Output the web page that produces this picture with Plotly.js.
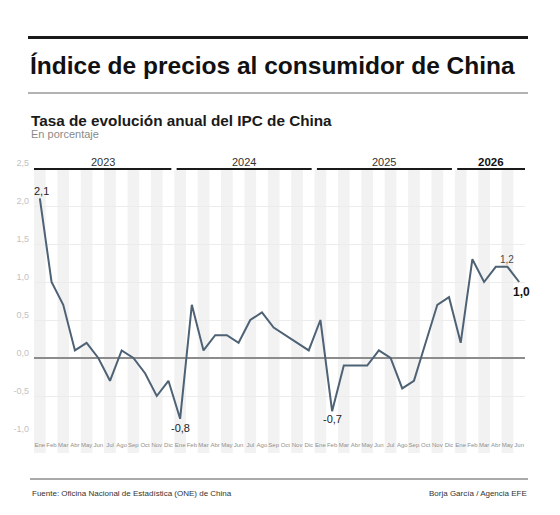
<!DOCTYPE html>
<html>
<head>
<meta charset="utf-8">
<script src="https://cdn.plot.ly/plotly-3.0.1.min.js"></script>
<style>
  html, body { margin: 0; padding: 0; background: #ffffff; }
  #chart { width: 560px; height: 515px; }
</style>
</head>
<body>
<div id="chart"></div>
<script>
// Tasa de variación interanual del IPC de China, por meses
const years = ['2023', '2024', '2025', '2026'];
const months = ['Ene', 'Feb', 'Mar', 'Abr', 'May', 'Jun', 'Jul', 'Ago', 'Sep', 'Oct', 'Nov', 'Dic'];
const cpi2023 = [2.1, 1.0, 0.7, 0.1, 0.2, 0.0, -0.3, 0.1, 0.0, -0.2, -0.5, -0.3];
const cpi2024 = [-0.8, 0.7, 0.1, 0.3, 0.3, 0.2, 0.5, 0.6, 0.4, 0.3, 0.2, 0.1];
const cpi2025 = [0.5, -0.7, -0.1, -0.1, -0.1, 0.1, 0.0, -0.4, -0.3, 0.2, 0.7, 0.8];
const cpi2026 = [0.2, 1.3, 1.0, 1.2, 1.2, 1.0];
const yTicks = [-1.0, -0.5, 0.0, 0.5, 1.0, 1.5, 2.0, 2.5];

// Serie continua y etiquetas de mes
const series = [cpi2023, cpi2024, cpi2025, cpi2026];
const values = [].concat(...series);
const idx = values.map((_, i) => i);
const monthText = idx.map(i => months[i % 12]);

// Puntos con etiqueta de valor
const labelled = [
  { i: 0,  dy: 7,   dx: 2, size: 11, color: '#222222', bold: false },
  { i: 12, dy: -9,  dx: 0, size: 11, color: '#222222', bold: false },
  { i: 25, dy: -8,  dx: 0, size: 11, color: '#222222', bold: false },
  { i: 40, dy: 7,   dx: 0, size: 10, color: '#4a4a4a', bold: false },
  { i: 41, dy: -10, dx: 2, size: 12, color: '#111111', bold: true }
];

// Geometría
const W = 560, H = 515;
const M = { l: 34, r: 35, t: 168, b: 81 };
const pw = W - M.l - M.r, ph = H - M.t - M.b;
const PX = x => (x - M.l) / pw;
const PY = y => (H - M.b - y) / ph;

const fmt = v => v.toFixed(1).replace('.', ',');

const shapes = [];
const annotations = [];

// Bandas alternas de fondo
idx.forEach(i => {
  if (i % 2 === 0) {
    shapes.push({
      type: 'rect', layer: 'below', xref: 'x', yref: 'paper',
      x0: i - 0.5, x1: i + 0.5, y0: PY(453), y1: PY(170),
      fillcolor: '#f2f2f2', line: { width: 0 }
    });
  }
});

// Barras de año y rótulos
let start = 0;
years.forEach((yr, k) => {
  const n = series[k].length;
  const first = start, last = start + n - 1;
  const isLast = k === years.length - 1;
  const x0 = first - 0.5 + (first > 0 ? 0.2 : 0);
  const x1 = last + 0.5 - (isLast ? -0.05 : 0.25);
  shapes.push({
    type: 'line', xref: 'x', yref: 'paper',
    x0: x0, x1: x1, y0: PY(169), y1: PY(169),
    line: { color: '#1a1a1a', width: 2 }
  });
  annotations.push({
    xref: 'x', yref: 'paper', x: (x0 + x1) / 2, y: PY(161.5),
    xanchor: 'center', yanchor: 'middle', showarrow: false,
    text: isLast ? '<b>' + yr + '</b>' : yr,
    font: { family: 'Liberation Sans, Arial, sans-serif', size: isLast ? 11.5 : 11, color: isLast ? '#111111' : '#333333' }
  });
  start += n;
});

// Etiquetas de valor
labelled.forEach(p => {
  annotations.push({
    xref: 'x', yref: 'y', x: p.i, y: values[p.i],
    xanchor: 'center', yanchor: 'middle', showarrow: false,
    xshift: p.dx, yshift: p.dy,
    text: p.bold ? '<b>' + fmt(values[p.i]) + '</b>' : fmt(values[p.i]),
    font: { family: 'Liberation Sans, Arial, sans-serif', size: p.size, color: p.color }
  });
});

// Cabecera
shapes.push({ type: 'line', xref: 'paper', yref: 'paper', x0: PX(28), x1: PX(528), y0: PY(37.5), y1: PY(37.5), line: { color: '#1a1a1a', width: 3 } });
shapes.push({ type: 'line', xref: 'paper', yref: 'paper', x0: PX(28), x1: PX(528), y0: PY(93), y1: PY(93), line: { color: '#666666', width: 1 } });
shapes.push({ type: 'line', xref: 'paper', yref: 'paper', x0: PX(30), x1: PX(528), y0: PY(479), y1: PY(479), line: { color: '#555555', width: 1 } });

annotations.push({
  xref: 'paper', yref: 'paper', x: PX(28), y: PY(65.5), xanchor: 'left', yanchor: 'middle', showarrow: false,
  text: '<b>Índice de precios al consumidor de China</b>',
  font: { family: 'Liberation Sans, Arial, sans-serif', size: 24.5, color: '#111111' }
});
annotations.push({
  xref: 'paper', yref: 'paper', x: PX(29), y: PY(120.5), xanchor: 'left', yanchor: 'middle', showarrow: false,
  text: '<b>Tasa de evolución anual del IPC de China</b>',
  font: { family: 'Liberation Sans, Arial, sans-serif', size: 15.3, color: '#1a1a1a' }
});
annotations.push({
  xref: 'paper', yref: 'paper', x: PX(29), y: PY(133.5), xanchor: 'left', yanchor: 'middle', showarrow: false,
  text: 'En porcentaje',
  font: { family: 'Liberation Sans, Arial, sans-serif', size: 11, color: '#8a8a8a' }
});

// Pie
annotations.push({
  xref: 'paper', yref: 'paper', x: PX(30), y: PY(493), xanchor: 'left', yanchor: 'middle', showarrow: false,
  text: 'Fuente: Oficina Nacional de Estadística (ONE) de China',
  font: { family: 'Liberation Sans, Arial, sans-serif', size: 8, color: '#333333' }
});
annotations.push({
  xref: 'paper', yref: 'paper', x: PX(529), y: PY(493), xanchor: 'right', yanchor: 'middle', showarrow: false,
  text: 'Borja García / Agencia EFE',
  font: { family: 'Liberation Sans, Arial, sans-serif', size: 8, color: '#333333' }
});

const trace = {
  type: 'scatter', mode: 'lines',
  x: idx, y: values,
  line: { color: '#4e6275', width: 2 },
  hoverinfo: 'skip'
};

const layout = {
  width: W, height: H,
  margin: M,
  paper_bgcolor: '#ffffff', plot_bgcolor: 'rgba(0,0,0,0)',
  separators: ',.',
  showlegend: false,
  xaxis: {
    range: [-0.5, values.length - 0.5],
    tickmode: 'array', tickvals: idx, ticktext: monthText,
    showgrid: false, zeroline: false, showline: false, ticks: '',
    ticklabelstandoff: 6,
    tickangle: 0,
    tickfont: { family: 'Liberation Sans, Arial, sans-serif', size: 6, color: '#8f8f8f' },
    fixedrange: true
  },
  yaxis: {
    range: [-1.0, 2.5],
    tickmode: 'array', tickvals: yTicks, ticktext: yTicks.map(fmt),
    showgrid: true, gridcolor: '#ececec', gridwidth: 1,
    zeroline: true, zerolinecolor: '#8c8c8c', zerolinewidth: 1.2,
    showline: false, ticks: '',
    ticklabelshift: -5, ticklabelstandoff: 4,
    tickfont: { family: 'Liberation Sans, Arial, sans-serif', size: 9, color: '#c2c2c2' },
    fixedrange: true
  },
  shapes: shapes,
  annotations: annotations
};

Plotly.newPlot('chart', [trace], layout, { staticPlot: true, displayModeBar: false });
</script>
</body>
</html>
